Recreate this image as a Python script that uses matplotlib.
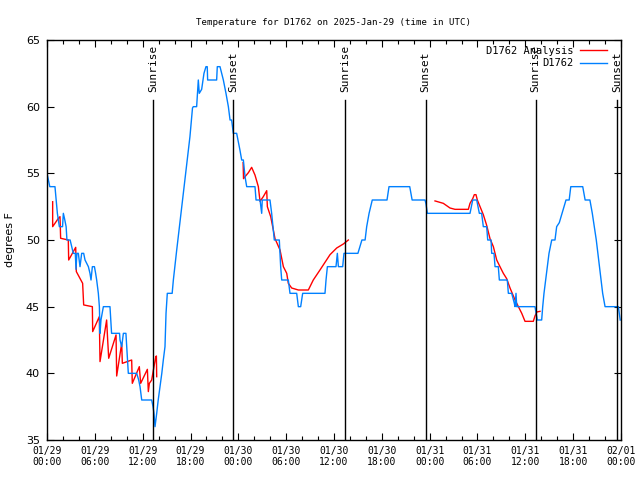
import numpy as np
import matplotlib
matplotlib.use("Agg")
import matplotlib.pyplot as plt
from matplotlib.ticker import MultipleLocator

# hours since 2025-01-29 00:00 UTC, temperature in F
station = [
    (0.0, 55), (0.35, 54), (1.0, 54), (1.15, 53), (1.3, 52), (1.55, 51), (1.95, 51),
    (2.05, 52), (2.2, 51.6), (2.4, 51), (2.5, 50), (2.9, 50), (3.1, 49.5), (3.3, 49),
    (3.55, 49), (3.64, 47.8), (3.75, 49), (3.93, 49), (4.14, 48), (4.35, 49), (4.6, 49),
    (4.77, 48.5), (5.19, 48), (5.39, 47.5), (5.52, 47), (5.69, 48), (5.95, 48),
    (6.1, 47.5), (6.23, 47), (6.44, 46), (6.57, 45), (6.65, 43), (6.77, 44), (7.07, 45),
    (7.9, 45), (8.0, 44), (8.1, 43), (8.53, 43), (9.1, 43), (9.16, 42.5), (9.37, 42),
    (9.58, 43), (9.9, 43), (10.0, 42), (10.1, 41), (10.2, 40), (11.25, 40), (11.5, 39.5),
    (11.67, 39), (11.88, 38), (13.13, 38), (13.3, 37.5), (13.42, 37), (13.55, 36),
    (13.76, 37), (13.95, 38), (14.17, 39), (14.4, 40), (14.59, 41), (14.8, 42),
    (14.93, 44.5), (15.09, 46), (15.7, 46), (15.85, 47), (16.27, 49.25), (17.1, 53.5),
    (17.93, 57.75), (18.25, 59.9), (18.35, 60), (18.77, 60), (18.98, 62), (19.1, 61),
    (19.4, 61.3), (19.69, 62.5), (19.94, 63), (20.1, 63), (20.15, 62), (21.28, 62),
    (21.36, 63), (21.7, 63), (21.91, 62.5), (22.12, 62), (22.45, 61), (22.75, 60),
    (22.96, 59), (23.16, 59), (23.37, 58), (23.79, 58), (24.2, 56.75), (24.42, 56),
    (24.63, 56), (24.84, 54.75), (25.05, 54), (25.34, 54), (26.09, 54), (26.22, 53),
    (26.72, 53), (26.93, 52), (27.0, 53), (27.97, 53), (28.18, 52), (28.51, 50),
    (29.14, 50), (29.23, 49), (29.31, 48), (29.44, 47), (30.27, 47), (30.48, 46),
    (31.32, 46), (31.53, 45), (31.82, 45), (32.07, 46), (34.87, 46), (35.0, 47),
    (35.17, 48), (36.25, 48), (36.42, 49), (36.55, 48), (36.96, 48), (37.09, 48),
    (37.25, 49), (39.0, 49), (39.5, 50), (39.9, 50), (40.1, 51), (40.4, 52), (40.8, 53),
    (42.65, 53), (42.9, 54), (45.5, 54), (45.8, 53), (47.42, 53), (47.54, 52.7),
    (47.71, 52), (53.06, 52), (53.4, 53), (53.9, 53), (54.23, 52), (54.52, 52),
    (54.73, 51), (55.15, 51), (55.28, 50), (55.7, 50), (55.78, 49), (56.07, 49),
    (56.2, 48), (56.61, 48), (56.74, 47), (57.74, 47), (57.87, 46), (58.29, 46),
    (58.6, 45.3), (58.71, 45), (58.83, 46), (58.92, 45), (61.21, 45), (61.5, 44),
    (62.05, 44), (62.18, 45), (62.34, 46), (62.55, 47), (62.76, 48), (62.97, 49),
    (63.31, 50), (63.72, 50), (63.93, 51), (64.26, 51.3), (64.6, 52), (65.1, 53),
    (65.5, 53), (65.7, 54), (67.2, 54), (67.5, 53), (68.1, 53), (68.4, 52), (68.9, 50),
    (69.3, 48), (69.7, 46), (70.0, 45), (71.67, 45), (71.9, 44),
]

nan = float("nan")
analysis = [
    (0.71, 52.87), (0.71, 51.0), (1.42, 51.62), (1.63, 51.75), (1.71, 50.13),
    (2.67, 50.0), (2.72, 48.5), (3.6, 49.45), (3.68, 47.63), (4.47, 46.75),
    (4.6, 45.13), (5.69, 45.0), (5.73, 43.13), (6.56, 44.25), (6.65, 40.88),
    (7.48, 44.0), (7.61, 42.5), (7.74, 41.13), (8.66, 42.88), (8.74, 39.8),
    (9.37, 42.25), (9.45, 40.75), (10.62, 41.0), (10.7, 39.25), (11.58, 40.5),
    (11.75, 39.25), (12.59, 40.3), (12.71, 38.63), (12.84, 39.25), (13.13, 39.5),
    (13.42, 40.5), (13.65, 41.25), (13.72, 41.3), (13.76, 39.75),
    (nan, nan),
    (24.6, 55.8), (24.65, 54.6), (24.84, 54.75), (25.26, 55.05), (25.67, 55.45),
    (26.09, 54.87), (26.51, 54.0), (26.72, 52.9), (27.13, 53.25), (27.56, 53.7),
    (27.64, 52.5), (28.06, 51.75), (28.39, 50.75), (28.6, 50.1), (29.23, 49.25),
    (29.65, 48.0), (30.07, 47.5), (30.27, 46.75), (30.69, 46.4), (31.53, 46.25),
    (32.78, 46.25), (33.4, 47.0), (34.24, 47.75), (35.5, 48.9), (36.34, 49.4),
    (37.17, 49.7), (37.8, 50.0),
    (nan, nan),
    (48.67, 52.93), (49.71, 52.75), (50.55, 52.4), (51.18, 52.3), (52.85, 52.3),
    (53.06, 52.75), (53.4, 53.1), (53.6, 53.4), (53.81, 53.4), (53.98, 53.0),
    (54.32, 52.5), (54.73, 51.9), (55.15, 51.1), (55.57, 50.1), (55.99, 49.5),
    (56.41, 48.5), (56.82, 48.0), (57.24, 47.5), (57.66, 47.1), (58.08, 46.4),
    (58.71, 45.5), (59.13, 45.0), (59.55, 44.5), (59.96, 43.9), (61.0, 43.9),
    (61.21, 44.3), (61.43, 44.6), (61.84, 44.65),
]

sunrise_h = [13.27, 37.35, 61.3]
sunset_h = [23.37, 47.5, 71.55]
tick_labels = ["01/29\n00:00", "01/29\n06:00", "01/29\n12:00", "01/29\n18:00",
               "01/30\n00:00", "01/30\n06:00", "01/30\n12:00", "01/30\n18:00",
               "01/31\n00:00", "01/31\n06:00", "01/31\n12:00", "01/31\n18:00",
               "02/01\n00:00"]

mono = "DejaVu Sans Mono"

fig = plt.figure(figsize=(6.4, 4.8), dpi=100)
ax = fig.add_axes([47 / 640, 40 / 480, 574 / 640, 400 / 480])

bh, bt = np.array(station).T
rh, rt = np.array(analysis).T

ax.plot(rh, rt, color="#ff0000", lw=1.0, label="D1762 Analysis")
ax.plot(bh, bt, color="#0080ff", lw=1.0, label="D1762")

for h in sunrise_h:
    ax.plot([h, h], [35, 60.5], color="black", lw=1.0)
    ax.text(h, 61.1, "Sunrise", rotation=90, ha="center", va="bottom",
            family=mono, fontsize=8)
for h in sunset_h:
    ax.plot([h, h], [35, 60.5], color="black", lw=1.0)
    ax.text(h, 61.1, "Sunset", rotation=90, ha="center", va="bottom",
            family=mono, fontsize=8)

ax.set_xlim(0, 72)
ax.set_ylim(35, 65)
ax.set_xticks(np.arange(0, 73, 6))
ax.set_xticklabels(tick_labels, family=mono, fontsize=7)
ax.xaxis.set_minor_locator(MultipleLocator(2))
ax.set_yticks(np.arange(35, 66, 5))
ax.tick_params(axis="both", which="both", direction="in", top=True, right=True)
ax.tick_params(axis="both", which="major", length=5, width=0.8)
ax.tick_params(axis="x", which="minor", length=3, width=0.8)
ax.tick_params(axis="x", pad=4)
ax.tick_params(axis="y", labelsize=8, pad=5)
for s in ax.spines.values():
    s.set_linewidth(1.0)

ax.set_ylabel("degrees F", fontsize=8, labelpad=8)
ax.set_title("Temperature for D1762 on 2025-Jan-29 (time in UTC)",
             family=mono, fontsize=6.6, pad=11)

leg = ax.legend(loc="upper right", bbox_to_anchor=(1 - 8 / 574, 1.0), frameon=False,
                prop={"family": mono, "size": 7.5}, markerfirst=False,
                handlelength=2.6, handletextpad=0.6, borderaxespad=0.15,
                labelspacing=0.25)
for t in leg.get_texts():
    t.set_ha("right")

fig.savefig("out.png", dpi=100)
